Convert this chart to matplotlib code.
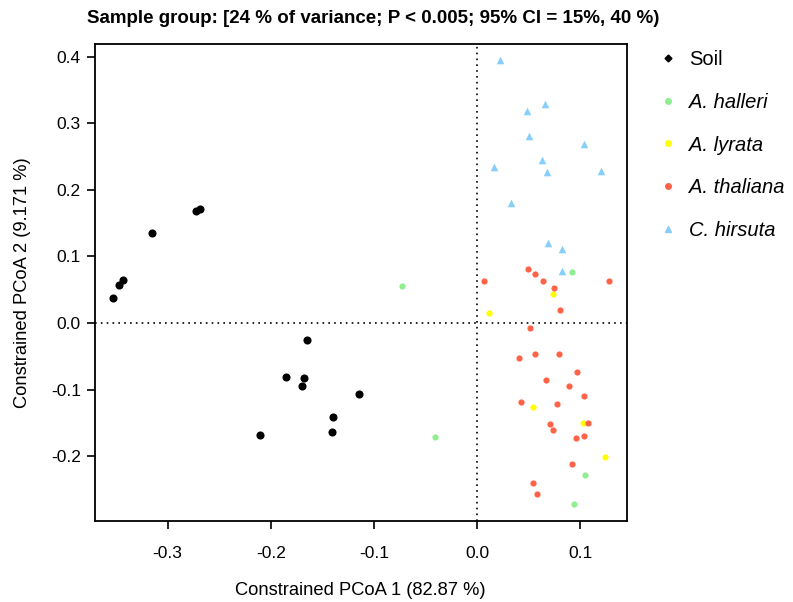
import matplotlib
matplotlib.use("Agg")
import matplotlib.pyplot as plt
from matplotlib.lines import Line2D

plt.rcParams['font.family'] = ['Liberation Sans', 'DejaVu Sans']

soil_x = [-0.2726, -0.2690, -0.3155, -0.3433, -0.3470, -0.3527, -0.1650, -0.1857,
          -0.1676, -0.1699, -0.1149, -0.1395, -0.1408, -0.2103]
soil_y = [0.1680, 0.1710, 0.1358, 0.0640, 0.0567, 0.0380, -0.0250, -0.0817,
          -0.0832, -0.0942, -0.1073, -0.1409, -0.1644, -0.1684]

halleri_x = [-0.0730, -0.0410, 0.0915, 0.1040, 0.0940]
halleri_y = [0.0560, -0.1720, 0.0772, -0.2290, -0.2717]

lyrata_x = [0.0113, 0.0734, 0.0537, 0.1021, 0.1235]
lyrata_y = [0.0146, 0.0441, -0.1268, -0.1509, -0.2020]

thaliana_x = [0.0488, 0.0562, 0.0065, 0.0640, 0.1273, 0.0740, 0.0798, 0.0511,
              0.0407, 0.0562, 0.0789, 0.0966, 0.0669, 0.0889, 0.1034, 0.0423,
              0.0772, 0.0708, 0.1076, 0.0734, 0.0956, 0.1037, 0.0921, 0.0537, 0.0576]
thaliana_y = [0.0817, 0.0742, 0.0627, 0.0627, 0.0627, 0.0520, 0.0191, -0.0075,
              -0.0531, -0.0466, -0.0461, -0.0737, -0.0857, -0.0942, -0.1102, -0.1188,
              -0.1223, -0.1514, -0.1504, -0.1614, -0.1729, -0.1704, -0.2125, -0.2401, -0.2571]

hirsuta_x = [0.0220, 0.0656, 0.0485, 0.0504, 0.1031, 0.0630, 0.0165, 0.0678,
             0.1202, 0.0330, 0.0685, 0.0821, 0.0824]
hirsuta_y = [0.3955, 0.3293, 0.3188, 0.2807, 0.2692, 0.2456, 0.2350, 0.2266,
             0.2290, 0.1809, 0.1198, 0.1117, 0.0782]

xticks = [-0.3, -0.2, -0.1, 0.0, 0.1]
yticks = [-0.2, -0.1, 0.0, 0.1, 0.2, 0.3, 0.4]
group_labels = ['Soil', 'A. halleri', 'A. lyrata', 'A. thaliana', 'C. hirsuta']

c_soil = 'black'
c_hal = '#90EE90'
c_lyr = '#FFFF00'
c_tha = '#FF6347'
c_hir = '#87CEFA'

fig = plt.figure(figsize=(7.93, 6.02), dpi=100)
ax = fig.add_axes([0.1194, 0.135, 0.6709, 0.7919])

ax.axvline(0, color='black', linestyle=(0, (1, 2.5)), linewidth=1.2, zorder=1)
ax.axhline(0, color='black', linestyle=(0, (1, 2.5)), linewidth=1.2, zorder=1)

ax.scatter(soil_x, soil_y, s=34, c=c_soil, marker='o', linewidths=0, zorder=3)
ax.scatter(halleri_x, halleri_y, s=20, c=c_hal, marker='o', linewidths=0, zorder=3)
ax.scatter(lyrata_x, lyrata_y, s=20, c=c_lyr, marker='o', linewidths=0, zorder=3)
ax.scatter(thaliana_x, thaliana_y, s=20, c=c_tha, marker='o', linewidths=0, zorder=3)
ax.scatter(hirsuta_x, hirsuta_y, s=30, c=c_hir, marker='^', linewidths=0, zorder=3)

ax.set_xlim(-0.3707, 0.1448)
ax.set_ylim(-0.2973, 0.4195)
ax.set_xticks(xticks)
ax.set_xticklabels(['%.1f' % v for v in xticks])
ax.set_yticks(yticks)
ax.set_yticklabels(['%.1f' % v for v in yticks])
ax.tick_params(direction='out', length=6, width=1.2, labelsize=12.5)
ax.tick_params(axis='x', pad=12.5)
ax.tick_params(axis='y', pad=4)
for sp in ax.spines.values():
    sp.set_linewidth(1.3)

ax.set_xlabel('Constrained PCoA 1 (82.87 %)', fontsize=13.2, labelpad=15)
ax.set_ylabel('Constrained PCoA 2 (9.171 %)', fontsize=13.2, labelpad=14)
fig.text(0.471, 0.969, 'Sample group: [24 % of variance; P < 0.005; 95% CI = 15%, 40 %)',
         ha='center', va='center', fontsize=13.5, fontweight='bold')

handles = [
    Line2D([], [], linestyle='none', marker='D', markersize=3.5, color=c_soil),
    Line2D([], [], linestyle='none', marker='o', markersize=4, color=c_hal),
    Line2D([], [], linestyle='none', marker='o', markersize=4, color=c_lyr),
    Line2D([], [], linestyle='none', marker='o', markersize=4, color=c_tha),
    Line2D([], [], linestyle='none', marker='^', markersize=5, color=c_hir),
]
leg = fig.legend(handles, group_labels, loc='upper left', bbox_to_anchor=(0.817, 0.931),
                 frameon=False, fontsize=14.5, labelspacing=1.19, handletextpad=0.45,
                 handlelength=1.2, borderaxespad=0)
for t in leg.get_texts()[1:]:
    t.set_fontstyle('italic')

fig.savefig('out.png', dpi=100)
